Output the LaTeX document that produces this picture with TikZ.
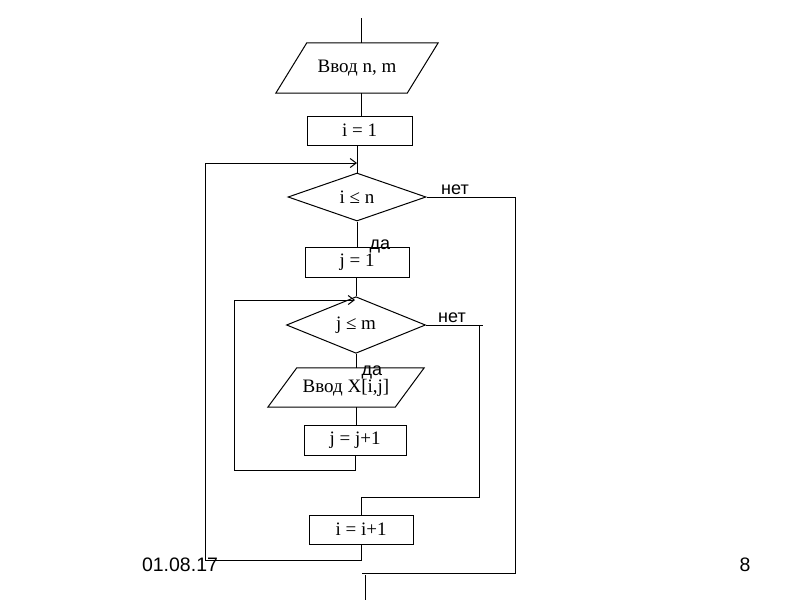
\documentclass[tikz,border=0pt]{standalone}
\usepackage{fontspec}
\setmainfont{Liberation Serif}
\newfontfamily\labfont{Liberation Sans}
\usetikzlibrary{shapes.geometric,arrows.meta}
\begin{document}
\begin{tikzpicture}[x=1pt,y=-1pt,
  every node/.style={inner sep=0pt},
  boxtext/.style={font=\fontsize{19}{22}\selectfont},
  procbox/.style={boxtext,draw,line width=1pt,rectangle},
  decbox/.style={boxtext,draw,line width=1pt,diamond},
  paratext/.style={boxtext,rectangle},
  lab/.style={font=\labfont\fontsize{18}{20}\selectfont},
  conn/.style={line width=1pt},
  loopar/.style={conn,-{Straight Barb[length=6pt,width=9pt]}}]
\useasboundingbox (0,0) rectangle (800,600);
% nodes
\node[paratext,minimum width=131,minimum height=50] (in1) at (357,68) {Ввод n, m};
\draw[line width=1pt] ([xshift=-15.5]in1.south west) -- ([xshift=-15.5]in1.south east)
  -- ([xshift=15.5]in1.north east) -- ([xshift=15.5]in1.north west) -- cycle;
\node[procbox,minimum width=105,minimum height=29] (i1) at (359.5,130.5) {i = 1};
\node[decbox,minimum width=138,minimum height=48] (d1) at (357,197) {i ≤ n};
\node[procbox,minimum width=104,minimum height=30] (j1) at (357,262) {j = 1};
\node[decbox,minimum width=139,minimum height=47] (d2) at (356,325) {j ≤ m};
\node[paratext,minimum width=127,minimum height=39] (in2) at (346,387.5) {Ввод X[i,j]};
\draw[line width=1pt] ([xshift=-14.5]in2.south west) -- ([xshift=-14.5]in2.south east)
  -- ([xshift=14.5]in2.north east) -- ([xshift=14.5]in2.north west) -- cycle;
\node[procbox,minimum width=102,minimum height=30] (jj) at (355,440) {j = j+1};
\node[procbox,minimum width=104,minimum height=29] (ii) at (361,529.5) {i = i+1};
% coordinates
\coordinate (top) at (361,18);
\coordinate (exitA) at (365,575);
\coordinate (exitB) at (365,600);
% labels
\node[lab] (no1) at (455,190) {нет};
\node[lab] (yes1) at (380,246) {да};
\node[lab] (no2) at (452,318) {нет};
\node[lab] (yes2) at (372,372) {да};
% connectors
\draw[conn] (top) -- (top |- in1.north);
\draw[conn] (361,93) -- (361,116);
\draw[conn] (357,145) -- (d1.north);
\draw[conn] (d1.south) -- (d1.south |- j1.north);
\draw[conn] (356,277) -- (d2.north);
\draw[conn] (d2.south) -- (d2.south |- in2.north);
\draw[conn] (356,407) -- (356,425);
% inner loop
\draw[loopar] (jj.south) -- (355,470) -| (234,300) -- (355,300);
% inner exit
\draw[conn] (d2.east) -- (483,325);
\draw[conn] (479,325) -- (479,497) -| (ii.north);
% outer loop
\draw[loopar] (ii.south) -- (361,560) -| (205,163) -- (357,163);
% outer exit
\draw[conn] (d1.east) -| (515,573) -- (362,573);
\draw[conn] (exitA) -- (exitB);
% footer
\node[font=\labfont\fontsize{19.5}{22}\selectfont] (date) at (180,565) {01.08.17};
\node[font=\labfont\fontsize{19.5}{22}\selectfont] (page) at (745,565) {8};
\end{tikzpicture}
\end{document}
